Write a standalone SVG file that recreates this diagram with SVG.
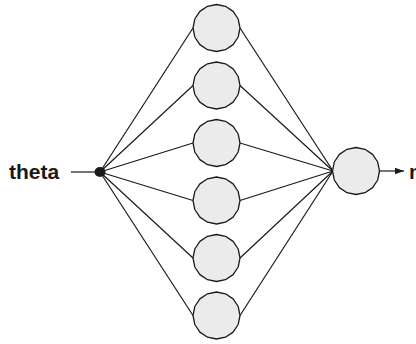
<svg xmlns="http://www.w3.org/2000/svg" xmlns:xlink="http://www.w3.org/1999/xlink" width="416" height="344" viewBox="0 0 416 344">
  <style>
    .node { fill: #ebebeb; stroke: #1a1a1a; stroke-width: 1.3; stroke-linejoin: round; }
    .edge { stroke: #1a1a1a; stroke-width: 1.2; fill: none; }
    .label { font-family: "Liberation Sans", Arial, sans-serif; font-weight: bold; font-size: 21px; fill: #1a1a1a; }
  </style>
  <defs>
    <!-- 16-sided neuron shape, radius 23.5 -->
    <polygon id="neuron" class="node" points="23.5,0 21.71,8.99 16.62,16.62 8.99,21.71 0,23.5 -8.99,21.71 -16.62,16.62 -21.71,8.99 -23.5,0 -21.71,-8.99 -16.62,-16.62 -8.99,-21.71 0,-23.5 8.99,-21.71 16.62,-16.62 21.71,-8.99"/>
    <marker id="arrow" markerWidth="10" markerHeight="8" refX="9" refY="4" orient="auto" markerUnits="userSpaceOnUse">
      <path d="M0,0.8 L9,4 L0,7.2 Z" fill="#1a1a1a"/>
    </marker>
  </defs>

  <g id="connectors">
    <line class="edge" x1="71" y1="172" x2="100" y2="172"/>
    <!-- input to hidden layer -->
    <line class="edge" x1="100" y1="172" x2="193" y2="28"/>
    <line class="edge" x1="100" y1="172" x2="193" y2="85.5"/>
    <line class="edge" x1="100" y1="172" x2="193" y2="143"/>
    <line class="edge" x1="100" y1="172" x2="193" y2="200.5"/>
    <line class="edge" x1="100" y1="172" x2="193" y2="258"/>
    <line class="edge" x1="100" y1="172" x2="193" y2="315.5"/>
    <!-- hidden layer to output -->
    <line class="edge" x1="240" y1="28" x2="333" y2="171"/>
    <line class="edge" x1="240" y1="85.5" x2="333" y2="171"/>
    <line class="edge" x1="240" y1="143" x2="333" y2="171"/>
    <line class="edge" x1="240" y1="200.5" x2="333" y2="171"/>
    <line class="edge" x1="240" y1="258" x2="333" y2="171"/>
    <line class="edge" x1="240" y1="315.5" x2="333" y2="171"/>
    <line class="edge" x1="379" y1="171" x2="404" y2="171" marker-end="url(#arrow)"/>
  </g>

  <g id="input">
    <text class="label" x="9" y="179">theta</text>
    <ellipse cx="100" cy="172" rx="5.5" ry="5" fill="#1a1a1a"/>
  </g>

  <g id="hidden1"><use xlink:href="#neuron" x="216.5" y="28"/></g>
  <g id="hidden2"><use xlink:href="#neuron" x="216.5" y="85.5"/></g>
  <g id="hidden3"><use xlink:href="#neuron" x="216.5" y="143"/></g>
  <g id="hidden4"><use xlink:href="#neuron" x="216.5" y="200.5"/></g>
  <g id="hidden5"><use xlink:href="#neuron" x="216.5" y="258"/></g>
  <g id="hidden6"><use xlink:href="#neuron" x="216.5" y="315.5"/></g>

  <g id="output">
    <use xlink:href="#neuron" x="356" y="171"/>
    <text class="label" x="409" y="179">n</text>
  </g>
</svg>
